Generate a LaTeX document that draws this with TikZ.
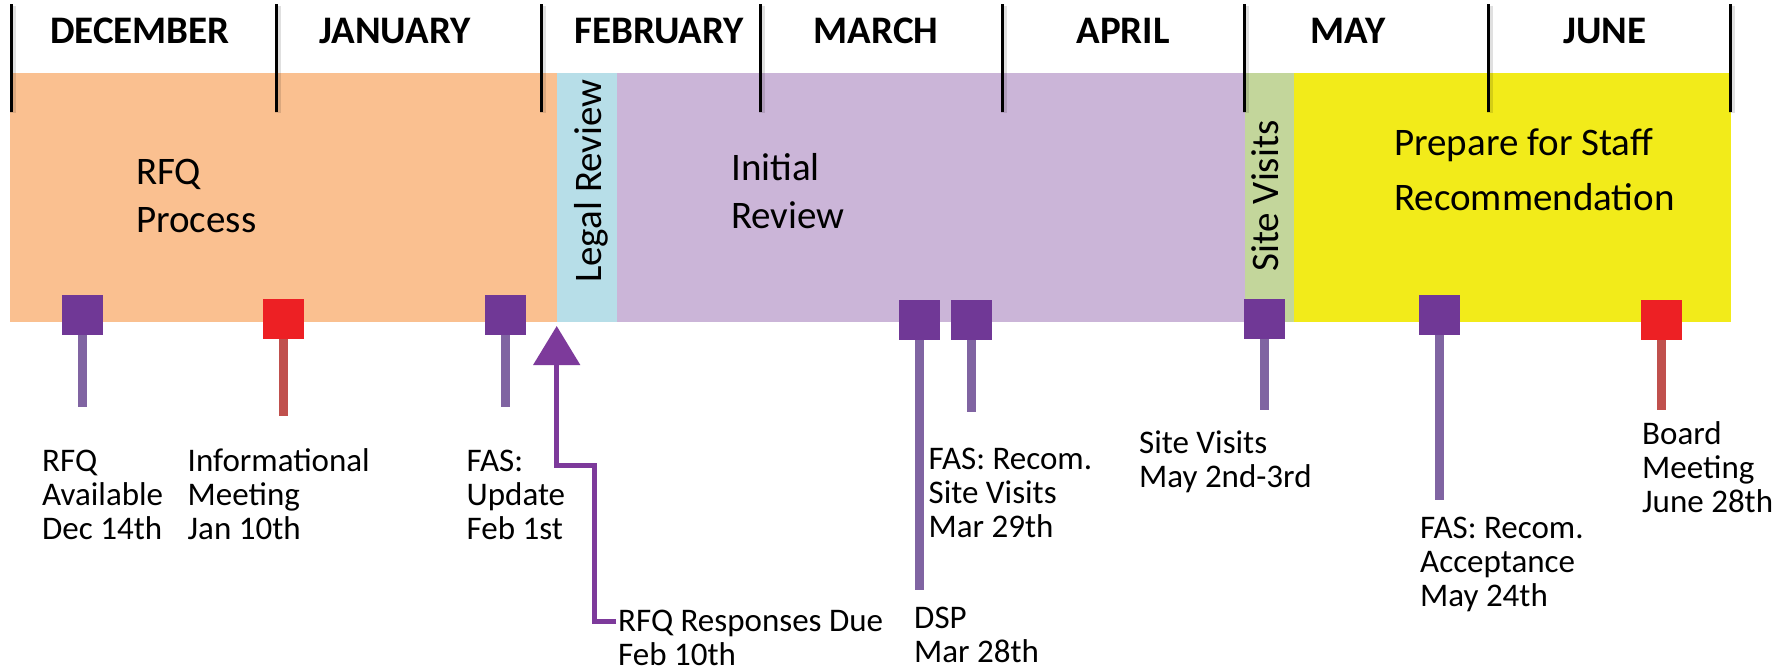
\documentclass[tikz,border=0pt]{standalone}
\usepackage{fontspec}
\setmainfont{Carlito}
\usetikzlibrary{arrows.meta}
\definecolor{bandOrange}{RGB}{250,192,144}
\definecolor{bandBlue}{RGB}{183,222,232}
\definecolor{bandPurple}{RGB}{203,181,216}
\definecolor{bandGreen}{RGB}{195,214,155}
\definecolor{bandYellow}{RGB}{242,235,26}
\definecolor{sqPurple}{RGB}{112,56,150}
\definecolor{sqRed}{RGB}{237,32,36}
\definecolor{stemPurple}{RGB}{128,100,162}
\definecolor{stemRed}{RGB}{192,80,77}
\definecolor{arrowPurple}{RGB}{125,58,155}
\begin{document}
\begin{tikzpicture}[x=1pt,y=-1pt,
  month/.style={font=\fontsize{39}{47}\selectfont\bfseries, anchor=base, inner sep=0pt},
  bandtext/.style={font=\fontsize{39}{48}\selectfont, align=left, anchor=north west, inner sep=0pt},
  vtext/.style={font=\fontsize{39}{48}\selectfont, rotate=90, anchor=base west, inner sep=0pt},
  label/.style={font=\fontsize{33}{34}\selectfont, align=left, anchor=north west, inner sep=0pt},
  tickline/.style={line width=3pt, black},
  tickshadow/.style={line width=6pt, black, opacity=0.12},
  sqbox/.style={minimum width=41pt, minimum height=40pt, inner sep=0pt, draw=none},
  sqp/.style={sqbox, fill=sqPurple},
  sqr/.style={sqbox, fill=sqRed},
  stemp/.style={line width=9pt, stemPurple},
  stemr/.style={line width=9pt, stemRed},
  respline/.style={line width=5pt, arrowPurple, -{Triangle[width=46pt,length=39pt]}}
]
\useasboundingbox (0,0) rectangle (1792,672);
\fill[white] (0,0) rectangle (1792,672);

% bands
\fill[bandOrange] (9.6,73) rectangle (557,322);
\fill[bandBlue] (557,73) rectangle (617,322);
\fill[bandPurple] (617,73) rectangle (1244.6,322);
\fill[bandGreen] (1244.6,73) rectangle (1294,322);
\fill[bandYellow] (1294,73) rectangle (1730.5,322);

% month ticks
\foreach \x in {11,276,541,760,1002,1244,1488,1730}{
  \draw[tickshadow] (\x+2,6) -- (\x+2,113);
  \draw[tickline] (\x,4) -- (\x,112);
}

% months
\node[month] (dec) at (140,43) {DECEMBER};
\node[month] (jan) at (395,43) {JANUARY};
\node[month] (feb) at (659,43) {FEBRUARY};
\node[month] (mar) at (876,43) {MARCH};
\node[month] (apr) at (1123,43) {APRIL};
\node[month] (may) at (1348,43) {MAY};
\node[month] (jun) at (1605,43) {JUNE};

% band labels
\node[bandtext] (rfqp) at (136,150.4) {\strut RFQ\\Process};
\node[bandtext] (init) at (731,146.4) {\strut Initial\\Review};
\node[bandtext, font=\fontsize{39}{55}\selectfont] (prep) at (1394,116.5) {\strut Prepare for Staff\\Recommendation};
\node[vtext] (legal) at (601,283) {Legal Review};
\node[vtext] (site) at (1278,272) {Site Visits};

% markers
\node[sqp] (m1) at (82.5,315) {};
\node[sqr] (m2) at (283.5,318.5) {};
\node[sqp] (m3) at (505.5,315) {};
\node[sqp] (m4) at (919.5,320) {};
\node[sqp] (m5) at (971.5,320) {};
\node[sqp] (m6) at (1264.5,318.5) {};
\node[sqp] (m7) at (1439.5,315) {};
\node[sqr] (m8) at (1661,319.5) {};

\coordinate (e1) at (82.5,407);
\coordinate (e2) at (283.5,416);
\coordinate (e3) at (505.5,407);
\coordinate (e4) at (919.5,590);
\coordinate (e5) at (971.5,412);
\coordinate (e6) at (1264.5,410);
\coordinate (e7) at (1439.5,500);
\coordinate (e8) at (1661,410);

\draw[stemp] (m1.south) -- (e1);
\draw[stemr] (m2.south) -- (e2);
\draw[stemp] (m3.south) -- (e3);
\draw[stemp] (m4.south) -- (e4);
\draw[stemp] (m5.south) -- (e5);
\draw[stemp] (m6.south) -- (e6);
\draw[stemp] (m7.south) -- (e7);
\draw[stemr] (m8.south) -- (e8);

% labels
\node[label] (l1) at (42,447.2) {\strut RFQ\\Available\\Dec 14th};
\node[label] (l2) at (187.5,447.2) {\strut Informational\\Meeting\\Jan 10th};
\node[label] (l3) at (466.5,447.2) {\strut FAS:\\Update\\Feb 1st};
\node[label] (l4) at (618,607.2) {\strut RFQ Responses Due\\Feb 10th};
\node[label] (l5) at (914,604.2) {\strut DSP\\Mar 28th};
\node[label] (l6) at (928.5,445.2) {\strut FAS: Recom.\\Site Visits\\Mar 29th};
\node[label] (l7) at (1139,429.2) {\strut Site Visits\\May 2nd-3rd};
\node[label] (l8) at (1420,514.2) {\strut FAS: Recom.\\Acceptance\\May 24th};
\node[label] (l9) at (1642,420.2) {\strut Board\\Meeting\\June 28th};

% RFQ responses arrow
\coordinate (rs) at (616,621);
\coordinate (tip) at (556.7,326);
\draw[respline] (rs) -- (594,621) -- (594,465) -- (556.7,465) -- (tip);
\end{tikzpicture}
\end{document}
